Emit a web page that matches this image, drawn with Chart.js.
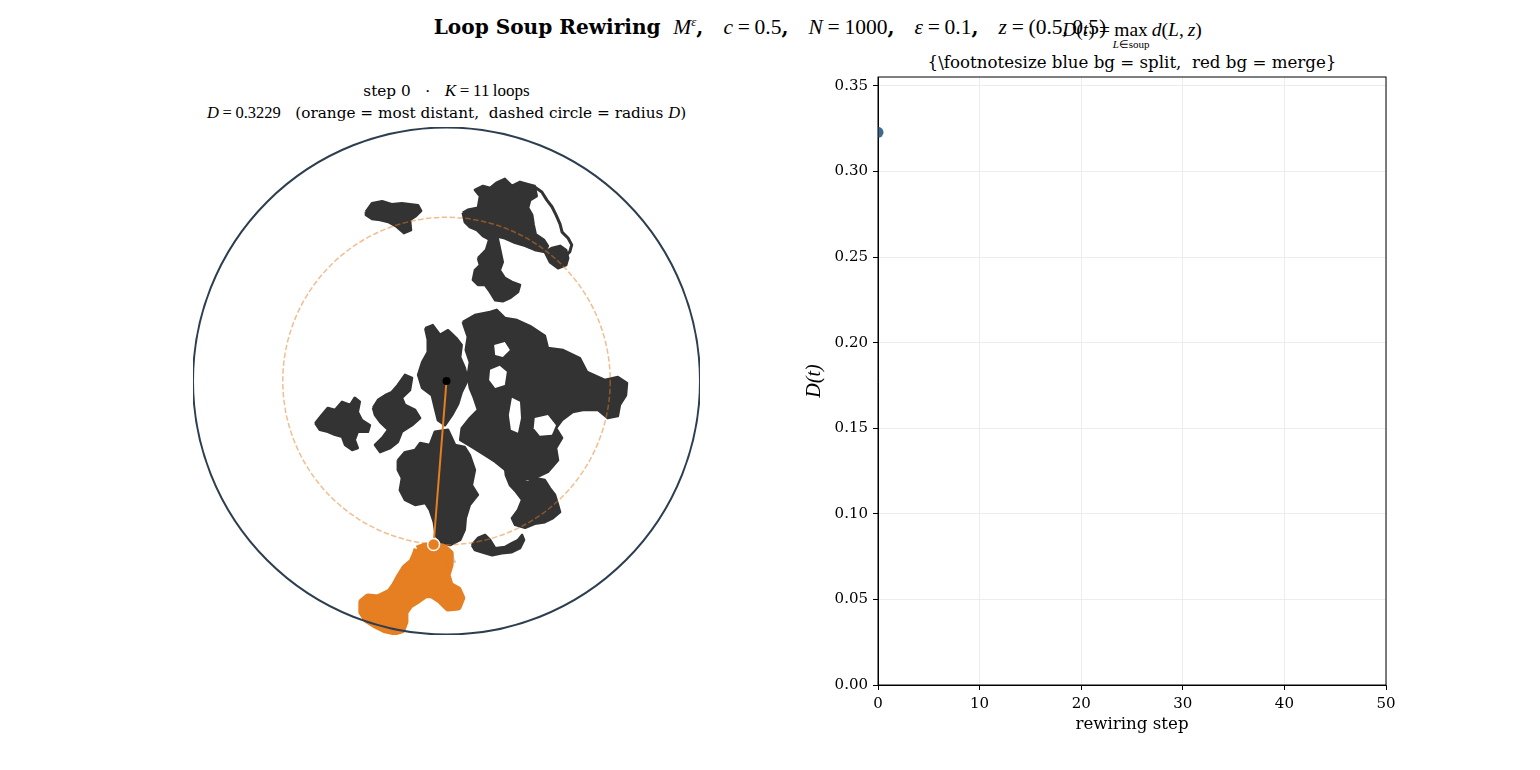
<!DOCTYPE html>
<html>
<head>
<meta charset="utf-8">
<script src="https://cdn.jsdelivr.net/npm/chart.js@4.4.0/dist/chart.umd.min.js"></script>
<style>
  body { margin: 0; background: #fff; width: 1540px; height: 770px; position: relative; overflow: hidden;
         font-family: 'DejaVu Serif', serif; color: #000; }
  .abs { position: absolute; white-space: nowrap; text-align: center; }
  .m { font-family: 'Liberation Serif', serif; }
  .m i { font-style: italic; }
  .eq { padding: 0 0.22em; }
  sup { font-size: 0.6em; vertical-align: 0.6em; line-height: 0; }
  #disk { position: absolute; left: 193px; top: 127px; }
  #trace { position: absolute; left: 798px; top: 61px; }
</style>
</head>
<body>

<div class="abs" style="left:0; width:1540px; top:15px; line-height:24px; font-size:20.1px;">
  <b>Loop Soup Rewiring</b>&nbsp; <span class="m" style="font-size:21.5px;"><i>M</i><sup><i>ε</i></sup></span><b>,</b>&emsp;<span class="m" style="font-size:21.5px;"><i>c</i><span class="eq">=</span>0.5</span><b>,</b>&emsp;<span class="m" style="font-size:21.5px;"><i>N</i><span class="eq">=</span>1000</span><b>,</b>&emsp;<span class="m" style="font-size:21.5px;"><i>ε</i><span class="eq">=</span>0.1</span><b>,</b>&emsp;<span class="m" style="font-size:21.5px;"><i>z</i><span class="eq">=</span>(0.5,&thinsp;0.5)</span>
</div>

<div class="abs m" style="left:878px; width:508px; top:19px; line-height:22px; font-size:19.5px;">
  <i>D</i>(<i>t</i>)<span class="eq">=</span><span style="position:relative; display:inline-block;">max<span style="position:absolute; left:50%; top:14px; transform:translateX(-50%); font-size:11px;"><i>L</i>∈soup</span></span>&thinsp;<i>d</i>(<i>L</i>,&thinsp;<i>z</i>)
</div>
<div class="abs" style="left:878px; width:508px; top:53px; line-height:20px; font-size:16.67px;">{\footnotesize blue bg = split,&nbsp; red bg = merge}</div>

<div class="abs" style="left:193px; width:507px; top:81px; line-height:20px; font-size:15.28px;">
  step 0&nbsp;&nbsp; · &nbsp;&nbsp;<span class="m" style="font-size:17px;"><i>K</i><span class="eq">=</span>11&thinsp;loops</span>
</div>
<div class="abs" style="left:193px; width:507px; top:103px; line-height:20px; font-size:15.28px;">
  <span class="m" style="font-size:16.5px;"><i>D</i><span class="eq">=</span>0.3229</span>&nbsp;&nbsp; (orange = most distant,&nbsp; dashed circle = radius <span class="m" style="font-size:16.5px;"><i>D</i></span>)
</div>

<canvas id="disk" width="507" height="508"></canvas>
<canvas id="trace" width="604" height="684"></canvas>

<script>
// Domain: disk centred at (0.5, 0.5), radius 0.5
const diskCenter = [0.5, 0.5];
const diskRadius = 0.5;
const zPoint = [0.5, 0.5];
const dMax = 0.3229;
const nearestPoint = [0.4745, 0.1781];   // closest point of the most distant loop

// Loop outlines, domain coords
const loopA = [[0.341,0.833],[0.353,0.850],[0.373,0.854],[0.392,0.848],[0.412,0.850],[0.428,0.848],[0.444,0.846],[0.450,0.835],[0.440,0.825],[0.428,0.817],[0.430,0.797],[0.416,0.791],[0.400,0.805],[0.385,0.813],[0.369,0.817],[0.353,0.819],[0.341,0.827]];
const loopBUpper = [[0.532,0.831],[0.542,0.837],[0.562,0.841],[0.566,0.864],[0.556,0.876],[0.572,0.884],[0.586,0.880],[0.598,0.890],[0.615,0.898],[0.629,0.884],[0.645,0.892],[0.659,0.888],[0.674,0.884],[0.678,0.864],[0.665,0.856],[0.661,0.841],[0.669,0.827],[0.672,0.807],[0.676,0.789],[0.692,0.778],[0.700,0.766],[0.694,0.754],[0.674,0.758],[0.655,0.766],[0.635,0.772],[0.615,0.781],[0.598,0.785],[0.586,0.778],[0.572,0.785],[0.560,0.797],[0.546,0.803],[0.536,0.813]];
const loopBString = [[0.674,0.882],[0.688,0.872],[0.698,0.856],[0.708,0.843],[0.716,0.827],[0.724,0.809],[0.728,0.793],[0.740,0.781],[0.747,0.768],[0.743,0.754],[0.730,0.742],[0.716,0.734]];
const loopBKnot = [[0.694,0.754],[0.708,0.762],[0.724,0.766],[0.736,0.758],[0.740,0.742],[0.736,0.728],[0.720,0.722],[0.704,0.734]];
const loopBTail = [[0.562,0.742],[0.578,0.758],[0.584,0.778],[0.601,0.781],[0.611,0.734],[0.605,0.718],[0.615,0.703],[0.629,0.695],[0.645,0.689],[0.641,0.675],[0.625,0.663],[0.611,0.657],[0.596,0.659],[0.586,0.675],[0.576,0.689],[0.562,0.689],[0.552,0.699],[0.556,0.718],[0.566,0.728]];
const loopC1 = [[0.458,0.604],[0.473,0.610],[0.487,0.591],[0.503,0.600],[0.519,0.585],[0.530,0.571],[0.527,0.547],[0.536,0.526],[0.542,0.502],[0.530,0.478],[0.523,0.455],[0.511,0.433],[0.497,0.413],[0.483,0.423],[0.477,0.447],[0.471,0.472],[0.452,0.486],[0.444,0.512],[0.452,0.537],[0.463,0.557],[0.463,0.581]];
const loopC2 = [[0.532,0.616],[0.556,0.630],[0.586,0.636],[0.599,0.640],[0.615,0.624],[0.639,0.620],[0.665,0.608],[0.694,0.589],[0.700,0.565],[0.730,0.561],[0.763,0.545],[0.777,0.518],[0.812,0.502],[0.838,0.508],[0.856,0.496],[0.854,0.472],[0.842,0.453],[0.838,0.431],[0.818,0.427],[0.799,0.443],[0.769,0.443],[0.749,0.439],[0.728,0.423],[0.716,0.407],[0.728,0.388],[0.716,0.368],[0.720,0.344],[0.700,0.321],[0.674,0.309],[0.645,0.305],[0.621,0.321],[0.596,0.341],[0.576,0.354],[0.550,0.370],[0.527,0.384],[0.530,0.407],[0.546,0.427],[0.562,0.443],[0.554,0.467],[0.546,0.486],[0.542,0.512],[0.546,0.537],[0.538,0.561],[0.542,0.587]];
const loopD = [[0.615,0.335],[0.635,0.325],[0.645,0.305],[0.661,0.301],[0.674,0.309],[0.694,0.305],[0.704,0.289],[0.714,0.276],[0.720,0.256],[0.724,0.242],[0.710,0.230],[0.694,0.222],[0.674,0.219],[0.655,0.211],[0.635,0.217],[0.629,0.230],[0.641,0.246],[0.649,0.266],[0.637,0.282],[0.625,0.295],[0.617,0.315]];
const loopE = [[0.404,0.344],[0.418,0.360],[0.438,0.364],[0.448,0.378],[0.467,0.374],[0.477,0.400],[0.503,0.404],[0.517,0.374],[0.536,0.370],[0.546,0.354],[0.556,0.325],[0.550,0.295],[0.562,0.276],[0.546,0.256],[0.538,0.230],[0.536,0.207],[0.527,0.187],[0.507,0.177],[0.491,0.181],[0.479,0.195],[0.475,0.222],[0.467,0.246],[0.458,0.260],[0.438,0.256],[0.418,0.266],[0.408,0.285],[0.412,0.309],[0.404,0.325]];
const loopF = [[0.550,0.177],[0.562,0.191],[0.576,0.197],[0.586,0.187],[0.596,0.171],[0.615,0.173],[0.629,0.181],[0.641,0.187],[0.649,0.197],[0.653,0.187],[0.645,0.171],[0.629,0.163],[0.609,0.161],[0.590,0.157],[0.570,0.163],[0.556,0.167]];
const loopG = [[0.241,0.417],[0.254,0.433],[0.266,0.447],[0.280,0.443],[0.294,0.459],[0.310,0.453],[0.319,0.467],[0.329,0.459],[0.325,0.439],[0.333,0.423],[0.349,0.413],[0.345,0.400],[0.325,0.400],[0.319,0.384],[0.325,0.368],[0.314,0.364],[0.300,0.374],[0.294,0.390],[0.280,0.394],[0.266,0.400],[0.250,0.404]];
const loopH = [[0.355,0.447],[0.365,0.463],[0.379,0.472],[0.392,0.478],[0.404,0.492],[0.418,0.512],[0.432,0.506],[0.428,0.482],[0.412,0.467],[0.418,0.453],[0.438,0.443],[0.448,0.427],[0.432,0.413],[0.412,0.400],[0.404,0.380],[0.389,0.368],[0.369,0.360],[0.359,0.374],[0.373,0.388],[0.385,0.404],[0.369,0.419],[0.359,0.433]];
// Larger empty pockets inside the central mass
const holeC2a = [[0.629,0.467],[0.645,0.459],[0.647,0.427],[0.641,0.398],[0.627,0.404],[0.623,0.433]];
const holeC2b = [[0.674,0.427],[0.700,0.433],[0.716,0.413],[0.708,0.394],[0.684,0.392],[0.672,0.407]];
const holeC2c = [[0.586,0.522],[0.605,0.530],[0.619,0.518],[0.615,0.492],[0.596,0.486],[0.584,0.502]];
const holeC2d = [[0.594,0.571],[0.615,0.577],[0.625,0.561],[0.611,0.547],[0.596,0.551]];
const farLoop = [[0.442,0.169],[0.458,0.175],[0.473,0.177],[0.493,0.173],[0.507,0.161],[0.507,0.138],[0.501,0.118],[0.507,0.098],[0.523,0.089],[0.530,0.073],[0.523,0.055],[0.503,0.053],[0.487,0.069],[0.471,0.079],[0.458,0.079],[0.444,0.069],[0.428,0.059],[0.418,0.045],[0.418,0.026],[0.412,0.010],[0.398,0.006],[0.379,0.010],[0.359,0.020],[0.343,0.030],[0.333,0.045],[0.333,0.065],[0.345,0.075],[0.365,0.073],[0.389,0.085],[0.398,0.098],[0.408,0.116],[0.418,0.132],[0.432,0.144],[0.438,0.157]];
const grayTrace = [[0.487,0.177],[0.503,0.171],[0.511,0.161],[0.513,0.148],[0.517,0.142]];

// Right panel: D(t) trace
const steps = [0];
const dValues = [0.3229];
const stepTicks = [0, 10, 20, 30, 40, 50];
const yTicks = [0, 0.05, 0.10, 0.15, 0.20, 0.25, 0.30, 0.35];
const yTop = 0.3552;

const toXY = pts => pts.map(p => ({x: p[0], y: p[1]}));
const closed = pts => toXY(pts.concat([pts[0]]));

function blob(pts) {
    return {
        data: closed(pts), borderColor: '#333333', backgroundColor: '#333333',
        borderWidth: 2.5, fill: 'shape', pointRadius: 0, tension: 0,
        borderJoinStyle: 'round', order: 10
    };
}

function hole(pts) {
    return {
        data: closed(pts), borderColor: '#ffffff', backgroundColor: '#ffffff',
        borderWidth: 0, fill: 'shape', pointRadius: 0, tension: 0, order: 9.5
    };
}

// Disk boundary and dashed radius-D circle, drawn just before the orange link line
const circlesPlugin = {
    id: 'circles',
    beforeDatasetDraw(chart, args) {
        if (!chart.data.datasets[args.index].circlesBefore) return;
        const {ctx, scales: {x, y}} = chart;
        const cx = x.getPixelForValue(diskCenter[0]), cy = y.getPixelForValue(diskCenter[1]);
        const r = x.getPixelForValue(diskCenter[0] + diskRadius) - cx;
        const zx = x.getPixelForValue(zPoint[0]), zy = y.getPixelForValue(zPoint[1]);
        const rd = x.getPixelForValue(zPoint[0] + dMax) - zx;
        ctx.save();
        ctx.beginPath();
        ctx.arc(cx, cy, r, 0, 2 * Math.PI);
        ctx.strokeStyle = '#2c3e50';
        ctx.lineWidth = 2;
        ctx.stroke();
        ctx.beginPath();
        ctx.setLineDash([5.5, 2.4]);
        ctx.arc(zx, zy, rd, 0, 2 * Math.PI);
        ctx.strokeStyle = 'rgba(230,126,34,0.5)';
        ctx.lineWidth = 1.5;
        ctx.stroke();
        ctx.restore();
    }
};

new Chart(document.getElementById('disk'), {
    type: 'line',
    data: {
        datasets: [
            blob(loopA), blob(loopBUpper), blob(loopBKnot), blob(loopBTail),
            { data: toXY(loopBString), borderColor: '#333333', borderWidth: 3, fill: false,
              pointRadius: 0, tension: 0, borderJoinStyle: 'round', order: 10 },
            blob(loopC1), blob(loopC2), blob(loopD), blob(loopE), blob(loopF), blob(loopG), blob(loopH),
            hole(holeC2a), hole(holeC2b), hole(holeC2c), hole(holeC2d),
            { data: toXY(grayTrace), borderColor: '#cccccc', borderWidth: 3, fill: false,
              pointRadius: 0, tension: 0, order: 9 },
            { data: closed(farLoop), borderColor: '#e67e22', backgroundColor: '#e67e22', borderWidth: 7,
              fill: 'shape', pointRadius: 0, tension: 0, borderJoinStyle: 'round', order: 8 },
            { data: toXY([zPoint, nearestPoint]), borderColor: '#e67e22', borderWidth: 2,
              pointRadius: 0, tension: 0, order: 3, circlesBefore: true },
            { data: toXY([zPoint]), showLine: false, pointRadius: 4, backgroundColor: '#000',
              borderWidth: 0, order: 2 },
            { data: toXY([nearestPoint]), showLine: false, pointRadius: 6, backgroundColor: '#e67e22',
              borderColor: '#ffffff', borderWidth: 1.5, order: 1 }
        ]
    },
    options: {
        responsive: false, animation: false, devicePixelRatio: 1,
        layout: { padding: 0, autoPadding: false },
        plugins: { legend: { display: false }, tooltip: { enabled: false } },
        scales: {
            x: { type: 'linear', min: 0, max: 1, display: false },
            y: { type: 'linear', min: 0, max: 1, display: false }
        }
    },
    plugins: [circlesPlugin]
});

const tickFont = { family: 'DejaVu Serif', size: 15 };

const framePlugin = {
    id: 'frame',
    afterDraw(chart) {
        const {ctx, chartArea: a} = chart;
        ctx.save();
        ctx.strokeStyle = '#000';
        ctx.lineWidth = 1;
        ctx.strokeRect(a.left, a.top, a.right - a.left, a.bottom - a.top);
        ctx.restore();
    }
};

new Chart(document.getElementById('trace'), {
    type: 'scatter',
    data: {
        datasets: [{
            data: steps.map((s, i) => ({x: s, y: dValues[i]})),
            pointRadius: 5.5, backgroundColor: '#3d6b8f', borderWidth: 0, clip: 0
        }]
    },
    options: {
        responsive: false, animation: false, devicePixelRatio: 1,
        layout: { padding: { top: 16, right: 16, left: 0, bottom: 0 }, autoPadding: false },
        plugins: { legend: { display: false }, tooltip: { enabled: false } },
        scales: {
            x: {
                type: 'linear', min: stepTicks[0], max: stepTicks[stepTicks.length - 1],
                afterBuildTicks: s => { s.ticks = stepTicks.map(v => ({value: v})); },
                afterFit: s => { s.height = 60; },
                ticks: { font: tickFont, color: '#000', padding: 5, maxRotation: 0 },
                grid: { color: '#e8e8e8', lineWidth: 0.8, tickColor: '#000', tickLength: 5, tickWidth: 1 },
                border: { color: '#000', width: 1 },
                title: { display: true, text: 'rewiring step', color: '#000',
                         font: { family: 'DejaVu Serif', size: 16.67 }, padding: { top: 4, bottom: 10 } }
            },
            y: {
                type: 'linear', min: 0, max: yTop,
                afterBuildTicks: s => { s.ticks = yTicks.map(v => ({value: v})); },
                afterFit: s => { s.width = 80; },
                ticks: { font: tickFont, color: '#000', padding: 5, callback: v => v.toFixed(2) },
                grid: { color: '#e8e8e8', lineWidth: 0.8, tickColor: '#000', tickLength: 5, tickWidth: 1 },
                border: { color: '#000', width: 1 },
                title: { display: true, text: 'D(t)', color: '#000',
                         font: { family: 'Liberation Serif', size: 20, style: 'italic' }, padding: { top: 5, bottom: 0 } }
            }
        }
    },
    plugins: [framePlugin]
});
</script>
</body>
</html>
